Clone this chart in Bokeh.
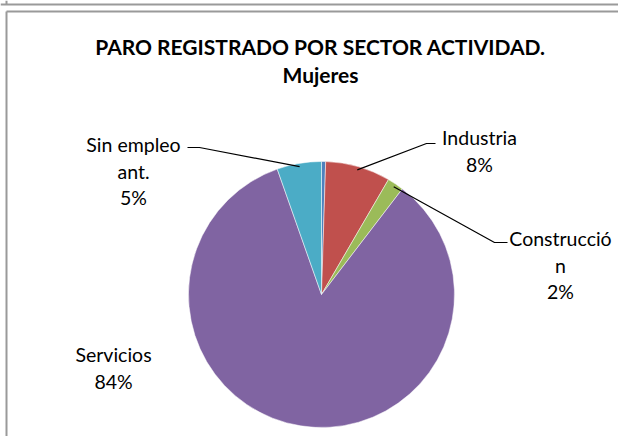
import math
from bokeh.plotting import figure
from bokeh.models import Range1d, ColumnDataSource
from bokeh.embed import file_html
from bokeh.resources import INLINE
from bokeh.core.properties import value

# ---- data ----
sectors = ["Agricultura", "Industria", "Construcción", "Servicios", "Sin empleo ant."]
shares = [0.5, 7.9, 2.0, 84.2, 5.4]
colors = ["#4F81BD", "#C0504D", "#9BBB59", "#8064A2", "#4BACC6"]
label_lines = [None, ["Industria"], ["Construcció", "n"], ["Servicios"], ["Sin empleo", "ant."]]
title_lines = ["PARO REGISTRADO POR SECTOR ACTIVIDAD.", "Mujeres"]

# ---- layout (page-pixel-like coords, y up) ----
W, H = 618, 436
O = 1  # page offset of figure's top-left corner
FONT = value("Lato")
cx, cy, R = 322, 442 - 295, 133

p = figure(width=W, height=H, x_range=Range1d(O, O + W), y_range=Range1d(442 - O - H, 442 - O),
           output_backend="svg", toolbar_location=None, min_border=0)
p.axis.visible = False
p.grid.visible = False
p.outline_line_color = None
p.background_fill_color = "white"

# frame lines (decorative, like the spreadsheet chart border)
p.line([1, 1 + W], [442 - 5, 442 - 5], line_color="#9a9a9a", line_width=2)
p.line([7, 7], [442 - 1, 442 - 5], line_color="#9a9a9a", line_width=2)
p.line([7, 7 + W], [442 - 12, 442 - 12], line_color="#9a9a9a", line_width=2)
p.line([7, 7], [442 - 12, 0], line_color="#9a9a9a", line_width=2)

total = sum(shares)
starts, ends, mids = [], [], []
cum = 0.0
for s in shares:
    a0 = math.pi / 2 - 2 * math.pi * cum / total
    cum += s
    a1 = math.pi / 2 - 2 * math.pi * cum / total
    starts.append(a0)
    ends.append(a1)
    mids.append((a0 + a1) / 2)

src = ColumnDataSource(dict(start=starts, end=ends, color=colors))
p.wedge(x=cx, y=cy, radius=R, radius_units="screen", start_angle="start", end_angle="end",
        direction="clock", fill_color="color", line_color="white", line_width=0.5, source=src)

# label positions: (x center, first line y in pixels, elbow points)
label_layout = {
    1: dict(x=480, y=138, elbow=[(436, 144), (427, 144)]),
    2: dict(x=561, y=239, elbow=[(508, 243), (495, 243)]),
    3: dict(x=114, y=355, elbow=None),
    4: dict(x=134, y=145, elbow=[(188, 148), (200, 148)]),
}
LS = 26.5
for i, lay in label_layout.items():
    lines = label_lines[i] + [f"{round(shares[i] / total * 100)}%"]
    for k, t in enumerate(lines):
        p.text(x=[lay["x"]], y=[442 - (lay["y"] + k * LS)], text=[t], text_font=FONT,
               text_font_size="19.5px", text_align="center", text_baseline="middle", text_color="black")
    if lay["elbow"]:
        ax = cx + 0.975 * R * math.cos(mids[i])
        ay = cy + 0.975 * R * math.sin(mids[i])
        xs = [e[0] for e in lay["elbow"]] + [ax]
        ys = [442 - e[1] for e in lay["elbow"]] + [ay]
        p.line(xs, ys, line_color="black", line_width=1.2)

for k, t in enumerate(title_lines):
    p.text(x=[321], y=[442 - (47 + k * 28)], text=[t], text_font=FONT, text_font_style="bold",
           text_font_size="21px", text_align="center", text_baseline="middle", text_color="black")

open("out.html", "w").write(file_html(p, INLINE))
